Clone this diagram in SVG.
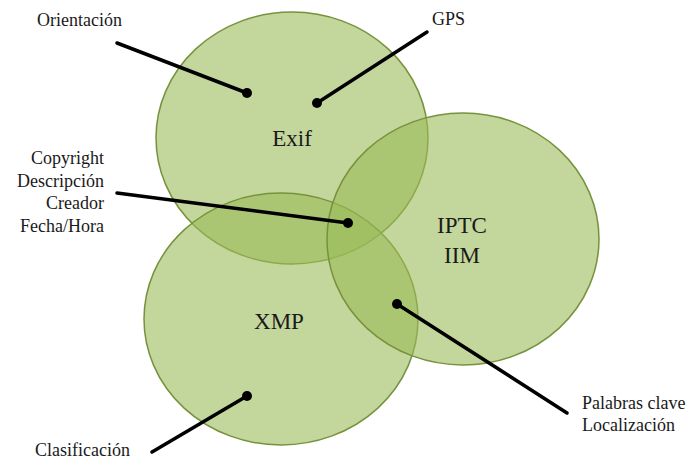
<svg xmlns="http://www.w3.org/2000/svg" width="689" height="462" viewBox="0 0 689 462">
<style>
.set{fill:#9bbb59;fill-opacity:0.6;stroke:#76923c;stroke-width:1.5}
.t{font-family:"Liberation Serif","Times New Roman",serif;fill:#1a1a1a}
.lbl{font-size:18px}
.big{font-size:23px}
.ln{stroke:#000;stroke-width:3.5;stroke-linecap:round;fill:none}
.dot{fill:#000}
</style>
<rect width="689" height="462" fill="#fff"/>
<g id="exif"><ellipse class="set" cx="292" cy="138" rx="136" ry="126"/><text class="t big" x="292" y="146" text-anchor="middle">Exif</text></g>
<g id="xmp"><ellipse class="set" cx="281" cy="319" rx="137" ry="126"/><text class="t big" x="279" y="329" text-anchor="middle">XMP</text></g>
<g id="iptc"><ellipse class="set" cx="463" cy="239" rx="136" ry="126"/><text class="t big" x="462" y="233" text-anchor="middle">IPTC</text><text class="t big" x="462" y="263" text-anchor="middle">IIM</text></g>
<g id="connectors">
<line class="ln" x1="117" y1="43" x2="247" y2="93"/><circle class="dot" cx="247" cy="93" r="5"/>
<line class="ln" x1="427" y1="32" x2="317" y2="103"/><circle class="dot" cx="317" cy="103" r="5"/>
<line class="ln" x1="117" y1="193" x2="348" y2="223"/><circle class="dot" cx="348" cy="223" r="5"/>
<line class="ln" x1="567" y1="413" x2="397" y2="304"/><circle class="dot" cx="397" cy="304" r="5"/>
<line class="ln" x1="152" y1="452" x2="247" y2="396"/><circle class="dot" cx="247" cy="396" r="5"/>
</g>
<g id="lbl-orientacion"><text class="t lbl" x="37" y="26">Orientación</text></g>
<g id="lbl-gps"><text class="t lbl" x="432" y="25">GPS</text></g>
<g id="lbl-common" class="t lbl" text-anchor="end"><text x="104" y="164">Copyright</text><text x="104" y="187">Descripción</text><text x="104" y="209">Creador</text><text x="104" y="232">Fecha/Hora</text></g>
<g id="lbl-palabras" class="t lbl"><text x="582" y="409">Palabras clave</text><text x="582" y="431">Localización</text></g>
<g id="lbl-clasificacion"><text class="t lbl" x="35" y="456">Clasificación</text></g>
</svg>
